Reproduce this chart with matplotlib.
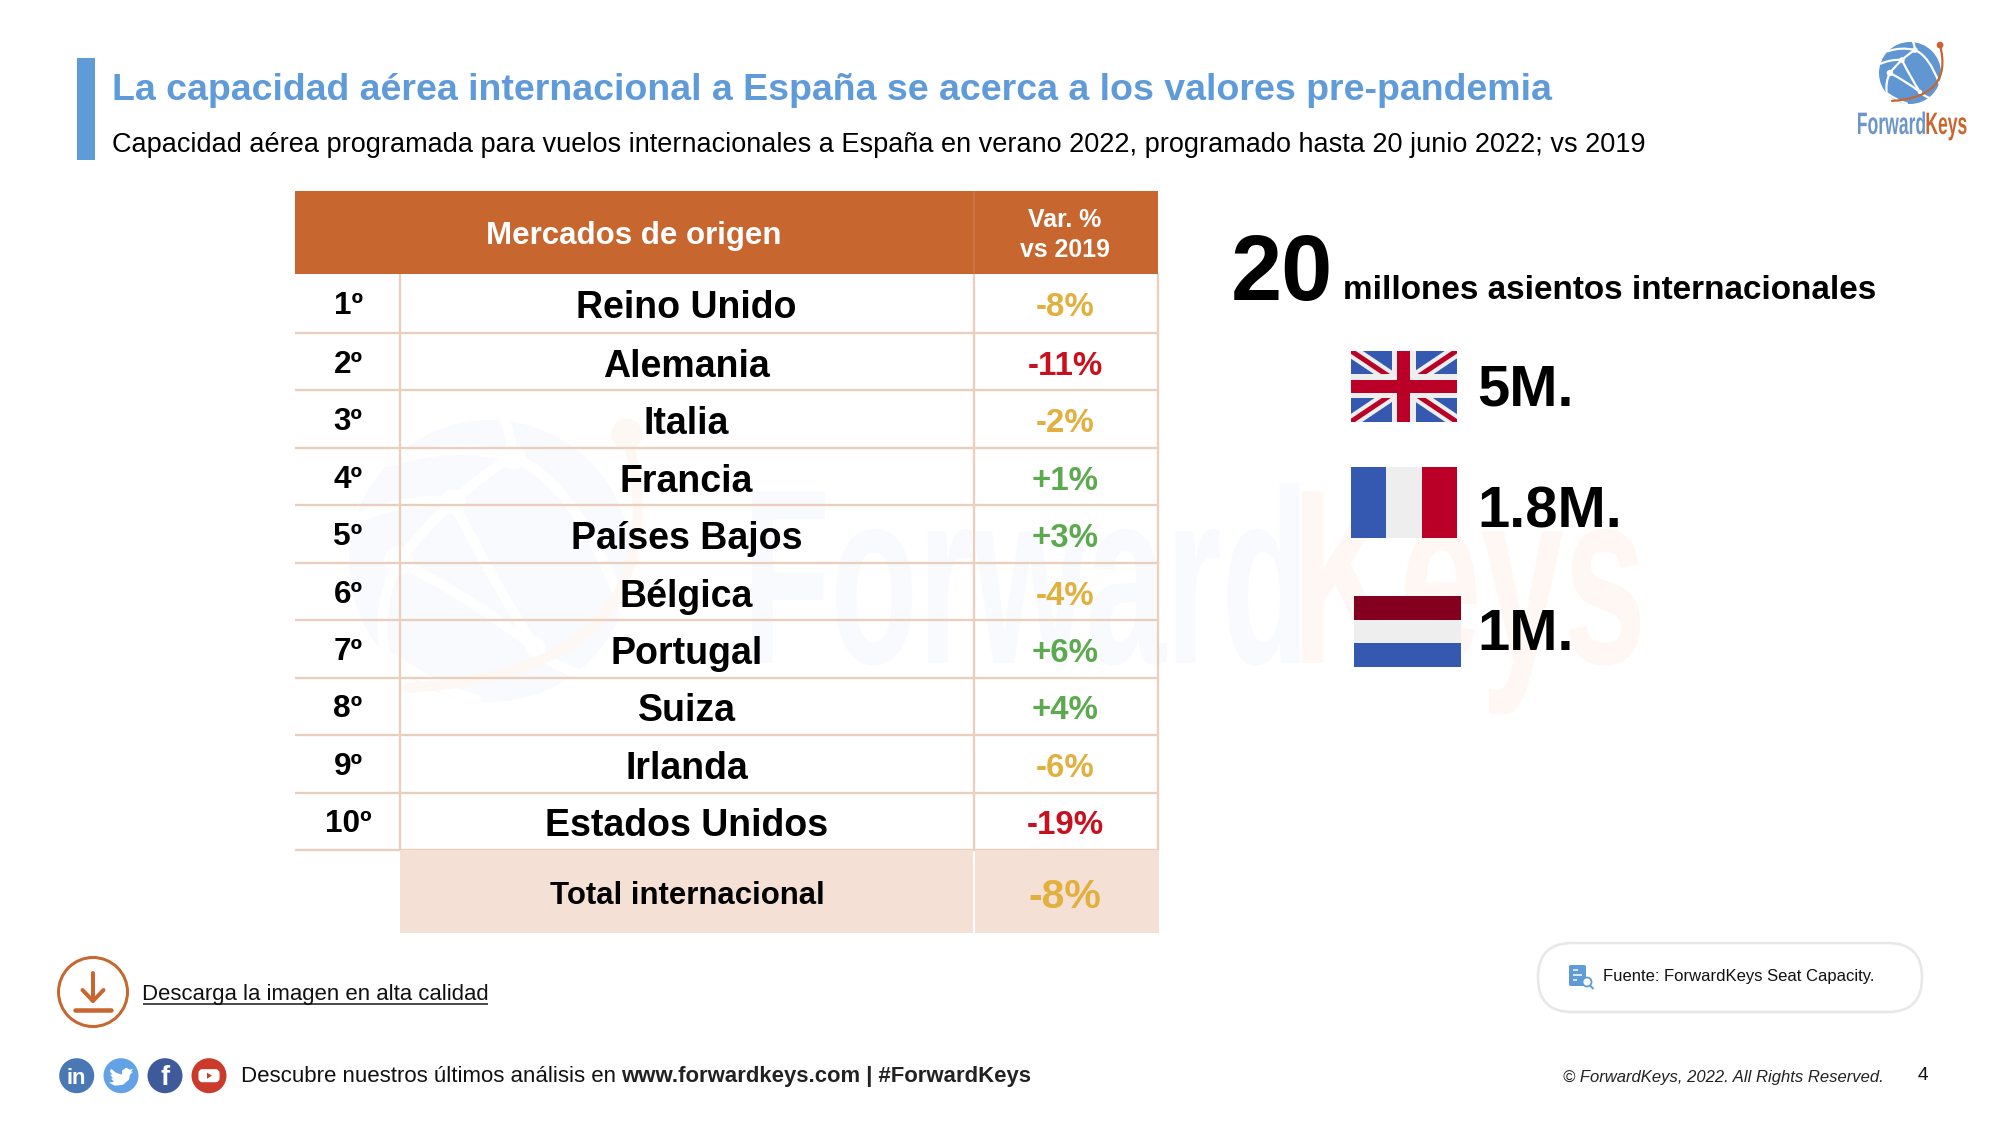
import numpy as np
import matplotlib
matplotlib.use("Agg")
import matplotlib.pyplot as plt
from matplotlib.colors import to_rgb
from matplotlib.font_manager import FontProperties
from matplotlib.patches import Rectangle, Circle, FancyBboxPatch, PathPatch, Polygon
from matplotlib.path import Path
from matplotlib.text import Text
from matplotlib.textpath import TextPath
from matplotlib.transforms import Affine2D, Bbox

# ---------- data ----------
title = "La capacidad aérea internacional a España se acerca a los valores pre-pandemia"
subtitle = "Capacidad aérea programada para vuelos internacionales a España en verano 2022, programado hasta 20 junio 2022; vs 2019"
header_market = "Mercados de origen"
header_var = ["Var. %", "vs 2019"]
ranks = ["1º", "2º", "3º", "4º", "5º", "6º", "7º", "8º", "9º", "10º"]
markets = ["Reino Unido", "Alemania", "Italia", "Francia", "Países Bajos",
           "Bélgica", "Portugal", "Suiza", "Irlanda", "Estados Unidos"]
var_pct = [-8, -11, -2, 1, 3, -4, 6, 4, -6, -19]
total_label = "Total internacional"
total_pct = -8
seats_total = "20"
seats_unit = "millones asientos internacionales"
top_seats = ["5M.", "1.8M.", "1M."]

# ---------- palette ----------
FONT = "Liberation Sans"
BLUE = "#5F9AD9"
ORANGE = "#C8662F"
GRID = "#EBCFBE"
TOTAL = "#F4E0D5"
AMBER = "#E2B03F"
RED = "#C8101E"
GREEN = "#5DA94F"
FB = "#3558B0"
FW = "#EEEEEE"
FR = "#BB0028"


def pct_color(v):
    if v > 0:
        return GREEN
    return RED if v <= -10 else AMBER


fig = plt.figure(figsize=(20, 11.25), dpi=100, facecolor="white")
ax = fig.add_axes([0, 0, 1, 1])
ax.set_xlim(0, 2000)
ax.set_ylim(1125, 0)
ax.axis("off")
rend = fig.canvas.get_renderer()
PX = 0.72


class SqueezedText(Text):
    """A text artist drawn condensed to a given width (as in the logo's lettering)."""

    def __init__(self, x, y, s, px, width, color, zorder):
        super().__init__(x, y, s, color=color, zorder=zorder, transform=ax.transData)
        prop = FontProperties(family=FONT, weight="bold")
        self._glyphs = TextPath((0, 0), s, size=px, prop=prop)
        self._bb = self._glyphs.get_extents()
        self._sx = width / self._bb.width

    def _place(self):
        ox, oy = self.get_transform().transform(self.get_position())
        return Affine2D().translate(-self._bb.x0, 0).scale(self._sx, 1).translate(ox, oy)

    def draw(self, renderer):
        gc = renderer.new_gc()
        gc.set_linewidth(0)
        renderer.draw_path(gc, self._glyphs, self._place(), to_rgb(self.get_color()))
        gc.restore()

    def get_window_extent(self, renderer=None, dpi=None):
        return Bbox(self._place().transform(self._bb.get_points()))


def squeezed(x, y, s, px, width, color, z=5):
    ax.add_artist(SqueezedText(x, y, s, px, width, color, z))


def put(x, y, s, size=None, width=None, color="black", weight="normal", style="normal",
        ha="left", family=FONT, z=5, va="baseline"):
    t = ax.text(x, y, s, fontsize=size or 20, color=color, fontweight=weight, fontstyle=style,
                ha=ha, va=va, family=family, zorder=z)
    if width:
        t.set_fontsize(20 * width / t.get_window_extent(rend).width)
    return t


def line(xs, ys, color, px, z=3, cap="butt"):
    ax.plot(xs, ys, color=color, lw=px * PX, zorder=z, solid_capstyle=cap)


def curve(p0, c, p1, cx, cy, r, color, px, z):
    pts = [(cx + r * a, cy + r * b) for a, b in (p0, c, p1)]
    ax.add_patch(PathPatch(Path(pts, [Path.MOVETO, Path.CURVE3, Path.CURVE3]),
                           fc="none", ec=color, lw=px * PX, zorder=z, capstyle="round"))


def globe(cx, cy, r, blue, orange, z=1.0):
    k = r / 31
    ax.add_patch(Circle((cx, cy), r, fc=blue, ec="none", zorder=z))
    w = "white"
    A, B, C, D = (-.65, 0), (-.26, -.42), (.16, -.74), (.32, .61)
    F, G = (.95, .35), (-.75, .65)
    for p0, c, p1 in [(A, (-.45, -.25), B), (B, (-.05, -.62), C), (C, (.62, -.55), F),
                      (A, (-.15, .25), D), (B, (.02, .15), D), (A, (-.80, .30), G),
                      (C, (-.30, -.85), (-.72, -.70)), (B, (-.60, -.45), (-.95, -.30)),
                      (D, (.40, .72), (.62, .80)), (G, (-.40, .90), (-.10, .98)),
                      (C, (.15, -.90), (.10, -1.0))]:
        curve(p0, c, p1, cx, cy, r, w, 2.2 * k, z + .1)
    for n, s in ((A, 3.2), (B, 2.8), (C, 2.8), (D, 2.2)):
        ax.add_patch(Circle((cx + r * n[0], cy + r * n[1]), s * k, fc=w, ec="none", zorder=z + .1))
    curve((.97, -.90), (1.40, .78), (-.58, .90), cx, cy, r, orange, 2.2 * k, z + .2)
    ax.add_patch(Circle((cx + r * .97, cy - r * .90), 3.4 * k, fc=orange, ec="none", zorder=z + .2))


# ---------- watermark ----------
globe(490, 561, 141, "#F8FAFD", "#FEF8F4", z=0.5)
squeezed(752, 663, "Forward", 249, 548, "#F8FAFD", z=0.5)
squeezed(1302, 663, "Keys", 249, 338, "#FEF7F3", z=0.5)

# ---------- title ----------
ax.add_patch(Rectangle((77, 57.5), 18, 102, fc=BLUE, ec="none"))
put(112, 100, title, width=1438, color=BLUE, weight="bold")
put(112, 151.7, subtitle, width=1531)

# ---------- logo ----------
globe(1910, 73, 31, "#6096D2", ORANGE, z=2)
squeezed(1858, 134, "Forward", 31, 67, "#6B96C8")
squeezed(1926.5, 134, "Keys", 31, 40, ORANGE)

# ---------- table ----------
X0, X1, X2, X3 = 295, 399.5, 973.5, 1158
row_y = [274] + [333 + 57.46 * i for i in range(len(markets))]
ax.add_patch(Rectangle((X0, 191), X3 - X0, 83, fc=ORANGE, ec="none", zorder=2))
line([X2, X2], [191, 274], "#D0764A", 1.5, z=2.5)
put(634, 244, header_market, size=31.3 * PX, color="white", weight="bold", ha="center")
put(1065, 226.7, header_var[0], size=24.9 * PX, color="white", weight="bold", ha="center")
put(1065, 257, header_var[1], size=24.9 * PX, color="white", weight="bold", ha="center")

for y in row_y[1:]:
    line([X0, X3], [y, y], GRID, 2.3)
for x in (X1, X2, X3):
    line([x, x], [274, row_y[-1]], GRID, 2.3)

for i, (rk, mk, v) in enumerate(zip(ranks, markets, var_pct)):
    cy = (row_y[i] + row_y[i + 1]) / 2
    off = 14 if i == 0 else 15
    put(348, cy + off - 4, rk, size=31.5 * PX, weight="bold", ha="center")
    put(686.5, cy + off, mk, size=37.5 * PX, weight="bold", ha="center")
    put(1065.5, cy + 13, f"{v:+d}%", size=33 * PX, color=pct_color(v), weight="bold", ha="center")

ax.add_patch(Rectangle((X1 + .5, row_y[-1]), X2 - 1 - X1, 933 - row_y[-1], fc=TOTAL, ec="none", zorder=3.5))
ax.add_patch(Rectangle((X2 + 1.5, row_y[-1]), X3 + 1 - X2 - 1.5, 933 - row_y[-1], fc=TOTAL, ec="none", zorder=3.5))
put(687, 904, total_label, size=31.2 * PX, weight="bold", ha="center")
put(1065, 908, f"{total_pct:+d}%", size=41 * PX, color=AMBER, weight="bold", ha="center")

# ---------- right panel ----------
put(1231, 300, seats_total, size=92 * PX, weight="bold")
put(1343, 299, seats_unit, width=532, weight="bold")
for label, base in zip(top_seats, (406, 528, 649.5)):
    put(1477.5, base, label, size=58 * PX, weight="bold")

# UK flag
ux0, ux1, uy0, uy1 = 1350.5, 1457, 350.5, 422
ax.add_patch(Rectangle((ux0, uy0), ux1 - ux0, uy1 - uy0, fc=FB, ec="none", zorder=2))
clip = Rectangle((ux0, uy0), ux1 - ux0, uy1 - uy0, transform=ax.transData)
for a, b in (((ux0, uy0), (ux1, uy1)), ((ux0, uy1), (ux1, uy0))):
    l1, = ax.plot([a[0], b[0]], [a[1], b[1]], color=FW, lw=13 * PX, zorder=2.1)
    l2, = ax.plot([a[0], b[0]], [a[1], b[1]], color=FR, lw=5 * PX, zorder=2.2)
    l1.set_clip_path(clip)
    l2.set_clip_path(clip)
umx, umy = (ux0 + ux1) / 2, (uy0 + uy1) / 2
ax.add_patch(Rectangle((umx - 12, uy0), 24, uy1 - uy0, fc=FW, ec="none", zorder=2.3))
ax.add_patch(Rectangle((ux0, umy - 12), ux1 - ux0, 24, fc=FW, ec="none", zorder=2.3))
ax.add_patch(Rectangle((umx - 6.5, uy0), 13, uy1 - uy0, fc=FR, ec="none", zorder=2.4))
ax.add_patch(Rectangle((ux0, umy - 6.5), ux1 - ux0, 13, fc=FR, ec="none", zorder=2.4))

# France flag
fx, fw, fy, fh = 1350.5, 106.5 / 3, 466.5, 71.5
for i, c in enumerate((FB, FW, FR)):
    ax.add_patch(Rectangle((fx + i * fw, fy), fw, fh, fc=c, ec="none", zorder=2))

# Netherlands flag
nx, nw, ny, nh = 1354, 107, 596, 71 / 3
for i, c in enumerate(("#85001F", FW, FB)):
    ax.add_patch(Rectangle((nx, ny + i * nh), nw, nh, fc=c, ec="none", zorder=2))

# ---------- download link ----------
ax.add_patch(Circle((93, 992), 34.5, fc="none", ec=ORANGE, lw=3 * PX, zorder=3))
line([93, 93], [973, 1001], ORANGE, 4, cap="round")
line([82.5, 93, 103.5], [990, 1001, 990], ORANGE, 4, cap="round")
line([75, 111], [1010, 1010], ORANGE, 4.5, cap="round")
put(142.5, 1000, "Descarga la imagen en alta calidad", width=345.5, color="#111111")
line([142.5, 488], [1003.5, 1003.5], "#222222", 1.6)

# ---------- social row ----------
SOC_Y = 1075.7
for x, c in zip((76.7, 121, 165, 209), ("#4A78B4", "#64A2E8", "#3F5A9A", "#CB3B2C")):
    ax.add_patch(Circle((x, SOC_Y), 17.5, fc=c, ec="none", zorder=3))
put(76.7, SOC_Y + 8, "in", size=22 * PX, color="white", weight="bold", ha="center")
put(165, SOC_Y + 9, "f", size=27 * PX, color="white", weight="bold", ha="center")
bird = [(-10, -7), (-5, -3), (1, -1), (1, -5), (5, -8), (9, -6), (12, -7), (10, -4), (12, -4),
        (9, -1), (8, 4), (2, 9), (-6, 10), (-12, 7), (-7, 6), (-10, 3), (-8, 2.5), (-11, -1),
        (-8.5, -1), (-11, -4)]
ax.add_patch(Polygon([(121 + a, SOC_Y + b) for a, b in bird], fc="white", ec="none", zorder=4))
ax.add_patch(FancyBboxPatch((199.5, SOC_Y - 5.5), 19, 11, boxstyle="round,pad=0,rounding_size=3",
                            fc="white", ec="white", lw=1.5, zorder=4))
ax.add_patch(Polygon([(207, SOC_Y - 3), (207, SOC_Y + 3), (212, SOC_Y)], fc="#CB3B2C", ec="none", zorder=5))
put(241, 1081.7, "Descubre nuestros últimos análisis en", width=375, color="#111111")
put(621, 1081.7, "www.forwardkeys.com | #ForwardKeys", width=409, color="#222222", weight="bold")

# ---------- source pill ----------
ax.add_patch(FancyBboxPatch((1538, 943), 384, 69, boxstyle="round,pad=0,rounding_size=34",
                            fc="white", ec="#E8E8E8", lw=2.6 * PX, zorder=3))
ax.add_patch(FancyBboxPatch((1569, 965), 17, 21, boxstyle="round,pad=0,rounding_size=2",
                            fc="#5F9AD9", ec="none", zorder=4))
line([1572.5, 1578], [970, 970], "white", 1.5, z=4.5)
line([1572.5, 1582], [975, 975], "white", 1.5, z=4.5)
line([1572.5, 1577], [980, 980], "white", 1.5, z=4.5)
ax.add_patch(Circle((1587, 982), 4.5, fc="white", ec="#5F9AD9", lw=1.8 * PX, zorder=4.6))
line([1590, 1593.5], [985.5, 989], "#5F9AD9", 2, z=4.6)
put(1603, 980.7, "Fuente: ForwardKeys Seat Capacity.", width=270, color="#111111")

put(1563, 1081.7, "© ForwardKeys, 2022. All Rights Reserved.", width=320, color="#222222", style="italic")
put(1923, 1080, "4", size=19 * PX, color="#111111", ha="center")

fig.savefig("out.png", dpi=100)
